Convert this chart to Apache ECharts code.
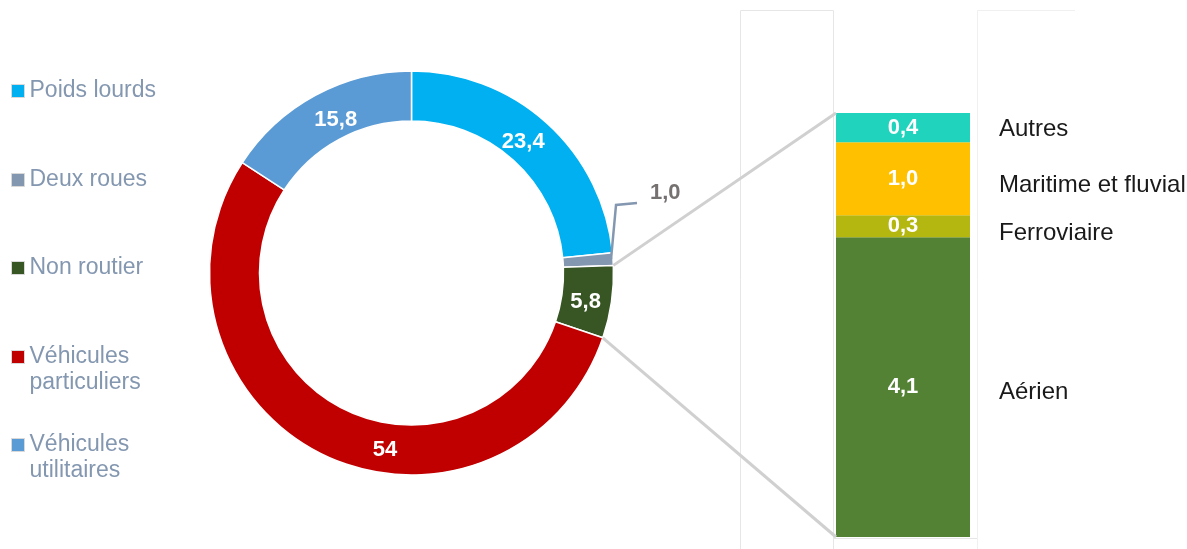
<!DOCTYPE html>
<html>
<head>
<meta charset="utf-8">
<script src="https://cdn.jsdelivr.net/npm/echarts@6/dist/echarts.min.js"></script>
<style>
html,body{margin:0;padding:0;background:#fff;}
#main{width:1187px;height:549px;}
</style>
</head>
<body>
<div id="main"></div>
<script>
// ---- data ----
const pieNames = ['Poids lourds', 'Deux roues', 'Non routier', 'Véhicules particuliers', 'Véhicules utilitaires'];
const pieValues = [23.4, 1.0, 5.8, 54, 15.8];
const pieLabels = ['23,4', '1,0', '5,8', '54', '15,8'];
const pieColors = ['#00b0f0', '#8497b0', '#375623', '#c00000', '#5b9bd5'];
const legendLabels = ['Poids lourds', 'Deux roues', 'Non routier', 'Véhicules\nparticuliers', 'Véhicules\nutilitaires'];

const barNames = ['Aérien', 'Ferroviaire', 'Maritime et fluvial', 'Autres'];
const barValues = [4.1, 0.3, 1.0, 0.4];
const barLabels = ['4,1', '0,3', '1,0', '0,4'];
const barColors = ['#548235', '#b4b70f', '#ffc000', '#1fd3bd'];
const barNameOffsets = [5, 7, 7, 2];

const FONT = 'Liberation Sans, Arial, sans-serif';
const chart = echarts.init(document.getElementById('main'), null, {renderer: 'canvas'});

const pieCenter = [411.5, 273];
const pieRadius = [152, 202];
const barTotal = barValues.reduce((a, b) => a + b, 0);

// legends (one per item for exact vertical placement)
const legendCenters = [91, 180, 268, 357, 445];
const legends = pieNames.map((n, i) => {
  const twoLine = legendLabels[i].indexOf('\n') >= 0;
  return {
    data: [n],
    orient: 'vertical',
    left: 11,
    top: twoLine ? legendCenters[i] - 39 : legendCenters[i] - 13,
    padding: 0,
    itemWidth: 13,
    itemHeight: 13,
    itemGap: 0,
    selectedMode: false,
    icon: 'rect',
    itemStyle: {borderColor: '#d9d9d9', borderWidth: 1},
    formatter: () => twoLine ? ' \n' + legendLabels[i] : legendLabels[i],
    textStyle: {fontFamily: FONT, fontSize: 23, color: '#8497b0', lineHeight: 26}
  };
});

// small label nudges to match the reference placement
const pieLabelNudge = [[-4.5, 1], [0, 0], [-2, 1.5], [0, 0], [5, 2.5]];

const series = [];
series.push({
  type: 'pie',
  center: pieCenter,
  radius: pieRadius,
  startAngle: 90,
  clockwise: true,
  avoidLabelOverlap: false,
  data: pieNames.map((n, i) => ({
    name: n,
    value: pieValues[i],
    itemStyle: {color: pieColors[i]},
    label: i === 1 ? {position: 'outside', color: '#767171'} : {position: 'inside', color: '#fff'},
    labelLine: {show: false}
  })),
  itemStyle: {borderColor: '#fff', borderWidth: 1.5},
  label: {
    show: true,
    fontFamily: FONT, fontSize: 22, fontWeight: 'bold',
    formatter: p => pieLabels[p.dataIndex]
  },
  labelLayout: p => {
    if (p.dataIndex === 1) return {x: 650, y: 193, align: 'left', verticalAlign: 'middle'};
    if (p.dataIndex === 3) return {x: 385, y: 450, align: 'center', verticalAlign: 'middle'};
    return {dx: pieLabelNudge[p.dataIndex][0], dy: pieLabelNudge[p.dataIndex][1]};
  },
  emphasis: {disabled: true}
});

barNames.forEach((n, i) => {
  series.push({
    type: 'bar', name: n, stack: 'v', xAxisIndex: 0, yAxisIndex: 0,
    barWidth: '100%',
    data: [barValues[i]],
    itemStyle: {color: barColors[i]},
    label: {show: true, position: 'inside', color: '#fff', fontFamily: FONT, fontSize: 22, fontWeight: 'bold',
      formatter: () => barLabels[i]},
    emphasis: {disabled: true}
  });
});
barNames.forEach((n, i) => {
  series.push({
    type: 'bar', name: n + ' ', stack: 'names', xAxisIndex: 0, yAxisIndex: 0,
    barWidth: '100%', barGap: '-100%',
    data: [barValues[i]],
    itemStyle: {color: 'rgba(0,0,0,0)'},
    label: {show: true, position: 'right', distance: 29, offset: [0, barNameOffsets[i]],
      color: '#1a1a1a', fontFamily: FONT, fontSize: 24, formatter: () => n},
    emphasis: {disabled: true}
  });
});

chart.setOption({
  animation: false,
  backgroundColor: '#fff',
  legend: legends,
  grid: {left: 836, top: 113, width: 134, bottom: 12, containLabel: false},
  xAxis: {type: 'category', data: [''], show: false, boundaryGap: true},
  yAxis: {type: 'value', min: 0, max: barTotal, show: false},
  series: series
});

// connector lines between donut slice and bar
const total = pieValues.reduce((a, b) => a + b, 0);
const R = pieRadius[1];
const polar = (ang, r) => [pieCenter[0] + r * Math.sin(ang), pieCenter[1] - r * Math.cos(ang)];
const a1 = (pieValues[0] + pieValues[1]) / total * 2 * Math.PI;
const a2 = (pieValues[0] + pieValues[1] + pieValues[2]) / total * 2 * Math.PI;
const aMid = (pieValues[0] + pieValues[1] / 2) / total * 2 * Math.PI;
const p1 = polar(a1, R);
const p2 = polar(a2, R);
const pm = polar(aMid, R - 2);
const gridRect = chart.getModel().getComponent('grid').coordinateSystem.getRect();
const topPt = chart.convertToPixel({xAxisIndex: 0, yAxisIndex: 0}, [0, barTotal]);
const botPt = chart.convertToPixel({xAxisIndex: 0, yAxisIndex: 0}, [0, 0]);
const bx = gridRect.x;

const faint = {stroke: '#e6e6e6', lineWidth: 1};
const fainter = {stroke: '#f0f0f0', lineWidth: 1};
chart.setOption({
  graphic: [
    {type: 'line', silent: true, z: -1, shape: {x1: 740.5, y1: 10.5, x2: 740.5, y2: 549}, style: faint},
    {type: 'line', silent: true, z: -1, shape: {x1: 740.5, y1: 10.5, x2: 833.5, y2: 10.5}, style: faint},
    {type: 'line', silent: true, z: -1, shape: {x1: 833.5, y1: 10.5, x2: 833.5, y2: 549}, style: faint},
    {type: 'line', silent: true, z: -1, shape: {x1: 833.5, y1: 538.5, x2: 977.5, y2: 538.5}, style: faint},
    {type: 'line', silent: true, z: -1, shape: {x1: 977.5, y1: 10.5, x2: 977.5, y2: 549}, style: fainter},
    {type: 'line', silent: true, z: -1, shape: {x1: 977.5, y1: 10.5, x2: 1075, y2: 10.5}, style: fainter},
    {type: 'polyline', silent: true, z: 6, shape: {points: [pm, [pm[0] + 5, 205], [637, 203]]},
      style: {stroke: '#8497b0', lineWidth: 2.5, fill: null}},
    {type: 'line', silent: true, z: 5, shape: {x1: p1[0], y1: p1[1], x2: bx, y2: topPt[1]}, style: {stroke: '#d0d0d0', lineWidth: 3}},
    {type: 'line', silent: true, z: 5, shape: {x1: p2[0], y1: p2[1], x2: bx, y2: botPt[1]}, style: {stroke: '#d0d0d0', lineWidth: 3}}
  ]
});
</script>
</body>
</html>
